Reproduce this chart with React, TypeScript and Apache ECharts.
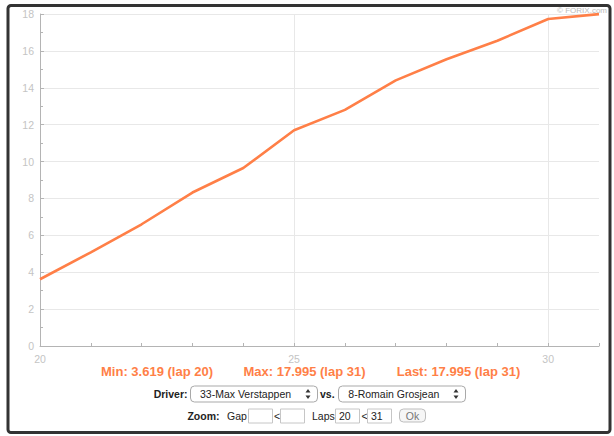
import React, { useEffect, useRef } from "react";
import * as echarts from "echarts";

const laps = [20, 21, 22, 23, 24, 25, 26, 27, 28, 29, 30, 31];
const gaps = [3.619, 5.08, 6.6, 8.32, 9.65, 11.7, 12.8, 14.4, 15.55, 16.55, 17.73, 17.995];
const statTexts = ["Min: 3.619 (lap 20)", "Max: 17.995 (lap 31)", "Last: 17.995 (lap 31)"];
const driverA = "33-Max Verstappen";
const driverB = "8-Romain Grosjean";
const lapFrom = "20";
const lapTo = "31";

const FONT = "'Liberation Sans', Arial, sans-serif";
const ORANGE = "#ff7f47";
const AXIS = "#b4b4b4";
const LABEL = "#c4c4c4";
const GRID = "#e8e8e8";

function arrows(cx: number, cy: number) {
  return [
    { type: "polygon", shape: { points: [[cx - 2.5, cy - 1.5], [cx + 2.5, cy - 1.5], [cx, cy - 5]] }, style: { fill: "#333" } },
    { type: "polygon", shape: { points: [[cx - 2.5, cy + 1.5], [cx + 2.5, cy + 1.5], [cx, cy + 5]] }, style: { fill: "#333" } },
  ];
}

function txt(x: number, y: number, text: string, opts: any = {}) {
  return {
    type: "text",
    x,
    y,
    style: {
      text,
      fill: opts.fill || "#222",
      font: opts.font || `10.5px ${FONT}`,
      textAlign: opts.align || "left",
      textVerticalAlign: "middle",
    },
  };
}

function box(x: number, y: number, w: number, h: number, r: number, stroke: string, fill = "#fff") {
  return { type: "rect", shape: { x, y, width: w, height: h, r }, style: { fill, stroke, lineWidth: 1 } };
}

export default function App() {
  const ref = useRef<HTMLDivElement>(null);
  useEffect(() => {
    if (!ref.current) return;
    const chart = echarts.init(ref.current, undefined, { renderer: "svg" });
    const row1 = 394;
    const row2 = 415.5;
    chart.setOption({
      animation: false,
      backgroundColor: "#fff",
      grid: [
        { left: 40, top: 14, right: 15, bottom: 90 },
        { left: 40, top: 14, right: 15, bottom: 90 },
      ],
      xAxis: [
        {
          gridIndex: 0,
          type: "value",
          min: 20,
          max: 31,
          interval: 5,
          axisLine: { show: true, lineStyle: { color: AXIS, width: 1 } },
          axisTick: { show: false },
          axisLabel: {
            color: LABEL,
            fontSize: 10.5,
            fontFamily: FONT,
            margin: 7,
            formatter: (v: number) => (v % 5 === 0 ? String(v) : ""),
          },
          splitLine: { show: true, showMaxLine: false, showMinLine: false, lineStyle: { color: GRID } },
        },
        {
          gridIndex: 1,
          type: "value",
          min: 20,
          max: 31,
          interval: 1,
          axisLine: { show: false },
          axisTick: { show: true, inside: true, length: 3, lineStyle: { color: AXIS } },
          axisLabel: { show: false },
          splitLine: { show: false },
        },
      ],
      yAxis: [
        {
          gridIndex: 0,
          type: "value",
          min: 0,
          max: 18,
          interval: 2,
          axisLine: { show: true, lineStyle: { color: AXIS, width: 1 } },
          axisTick: { show: true, inside: true, length: 4, lineStyle: { color: AXIS } },
          minorTick: { show: true, splitNumber: 2, length: 3, lineStyle: { color: AXIS } },
          axisLabel: { color: LABEL, fontSize: 10.5, fontFamily: FONT, margin: 6 },
          splitLine: { show: true, showMinLine: false, lineStyle: { color: GRID } },
        },
        { gridIndex: 1, type: "value", min: 0, max: 18, show: false },
      ],
      series: [
        {
          type: "line",
          xAxisIndex: 0,
          yAxisIndex: 0,
          data: laps.map((l, i) => [l, gaps[i]]),
          symbol: "none",
          lineStyle: { color: ORANGE, width: 2.6 },
          z: 5,
        },
      ],
      graphic: [
        {
          type: "rect",
          shape: { x: 8, y: 5.5, width: 602, height: 427, r: 3 },
          style: { fill: "none", stroke: "#333", lineWidth: 3 },
          silent: true,
        },
        txt(607, 10, "© FORIX.com", { fill: "#bbbbbb", font: `8px ${FONT}`, align: "right" }),
        txt(157, 371, statTexts[0], { fill: ORANGE, font: `bold 13px ${FONT}`, align: "center" }),
        txt(304.5, 371, statTexts[1], { fill: ORANGE, font: `bold 13px ${FONT}`, align: "center" }),
        txt(458.5, 371, statTexts[2], { fill: ORANGE, font: `bold 13px ${FONT}`, align: "center" }),
        txt(187.5, row1, "Driver:", { font: `bold 10.5px ${FONT}`, align: "right" }),
        box(190.5, 386, 127, 16, 4, "#a9a9a9"),
        txt(200, row1, driverA),
        ...arrows(308, row1),
        txt(320, row1, "vs.", { font: `bold 10.5px ${FONT}` }),
        box(338.5, 386, 127, 16, 4, "#a9a9a9"),
        txt(348.3, row1, driverB),
        ...arrows(456, row1),
        txt(219.5, row2, "Zoom:", { font: `bold 10.5px ${FONT}`, align: "right" }),
        txt(227, row2, "Gap"),
        box(248.5, 409, 24, 14, 0, "#c6c6c6"),
        txt(274, row2, "<"),
        box(280.5, 409, 24, 14, 0, "#c6c6c6"),
        txt(312, row2, "Laps"),
        box(335.5, 409, 24, 14, 0, "#c6c6c6"),
        txt(339, row2, lapFrom),
        txt(361.5, row2, "<"),
        box(367.5, 409, 24, 14, 0, "#c6c6c6"),
        txt(371, row2, lapTo),
        box(399.5, 409, 26, 13, 4, "#bdbdbd", "#f6f6f6"),
        txt(412.5, row2, "Ok", { fill: "#777", align: "center" }),
      ],
    });
    return () => chart.dispose();
  }, []);
  return (
    <div
      ref={ref}
      style={{ position: "fixed", left: 0, top: 0, width: 614, height: 436, background: "#fff" }}
    />
  );
}
